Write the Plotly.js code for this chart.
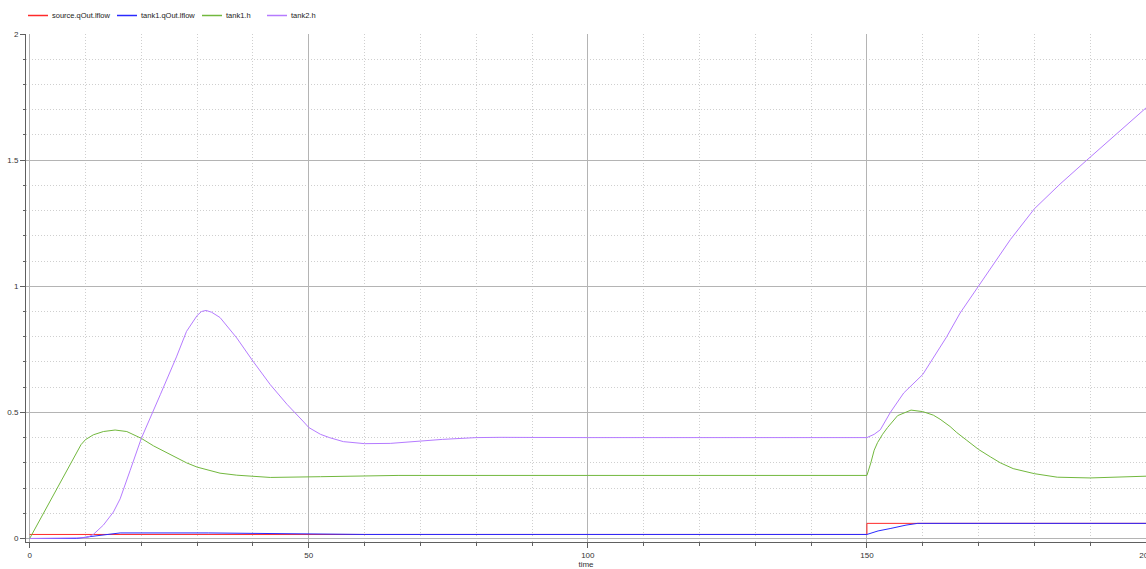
<!DOCTYPE html>
<html>
<head>
<meta charset="utf-8">
<script src="https://cdn.plot.ly/plotly-3.0.1.min.js"></script>
<style>
html,body{margin:0;padding:0;background:#fff;}
#chart{width:1146px;height:569px;}
</style>
</head>
<body>
<div id="chart"></div>
<script>
// ---- data ----
var seriesNames = ["source.qOut.lflow", "tank1.qOut.lflow", "tank1.h", "tank2.h"];

var sourceTime = [0, 150, 150, 200];
var sourceFlow = [0.016, 0.016, 0.06, 0.06];

var tank1FlowTime = [0, 8.4, 11, 14.4, 16.2, 32, 45.5, 60, 150, 152, 154.3, 157, 159.1, 200];
var tank1Flow = [0, 0, 0.008, 0.019, 0.022, 0.022, 0.019, 0.016, 0.016, 0.03, 0.04, 0.053, 0.06, 0.06];

var tank1HTime = [0, 4.2, 8.4, 9.2, 10, 11.4, 13.2, 15.3, 17.4, 20, 22.2, 25.1, 28.1, 30, 34.1, 37.1, 40, 43.1, 52.1, 60, 66, 100, 150,
                  150.7, 151.3, 151.9, 152.8, 153.7, 155.5, 157.9, 160, 161.9, 163.1, 164.9, 166.1, 167.9, 170, 172.1, 173.9,
                  176.2, 180, 184.1, 190, 200];
var tank1H = [0, 0.171, 0.342, 0.372, 0.392, 0.411, 0.424, 0.43, 0.424, 0.397, 0.367, 0.334, 0.30, 0.283, 0.259, 0.251, 0.246, 0.242, 0.245, 0.248, 0.25, 0.25, 0.25,
              0.30, 0.35, 0.38, 0.413, 0.44, 0.487, 0.509, 0.503, 0.489, 0.473, 0.444, 0.42, 0.389, 0.353, 0.324, 0.30,
              0.277, 0.257, 0.243, 0.24, 0.247];

var tank2HTime = [0, 9.6, 10.2, 11.4, 13.2, 15, 16.2, 18, 20, 23.4, 26.3, 28.1, 30, 30.8, 31.6, 32.6, 34.1, 37.1, 40, 43.1, 46.1, 49.1, 50,
                  52.1, 53.7, 56.2, 60, 64.6, 70, 74, 80, 84.3, 100, 150, 151.3, 152.4, 154.2, 156.6, 160, 161.3, 164.3,
                  166.7, 170, 172.7, 175.7, 180, 184.6, 189.4, 194.2, 200];
var tank2H = [0, 0, 0.003, 0.016, 0.053, 0.105, 0.157, 0.27, 0.397, 0.57, 0.72, 0.821, 0.884, 0.9, 0.904, 0.897, 0.876, 0.795, 0.703, 0.61, 0.532, 0.462, 0.44,
              0.413, 0.40, 0.384, 0.376, 0.377, 0.387, 0.393, 0.4, 0.401, 0.4, 0.4, 0.413, 0.431, 0.5, 0.577, 0.65, 0.696, 0.80,
              0.894, 1.0, 1.09, 1.185, 1.307, 1.405, 1.50, 1.594, 1.707];

var xTickVals = [0, 50, 100, 150, 200];
var xTickText = ["0", "50", "100", "150", "200"];
var yTickVals = [0, 0.5, 1, 1.5, 2];
var yTickText = ["0", "0.5", "1", "1.5", "2"];
var xTitle = "time";

// ---- styles ----
var colors = ["#ff2a2a", "#2a2aff", "#72b83e", "#b57bff"];
var xs = [sourceTime, tank1FlowTime, tank1HTime, tank2HTime];
var ys = [sourceFlow, tank1Flow, tank1H, tank2H];

var traces = seriesNames.map(function (n, i) {
  return {
    x: xs[i], y: ys[i], name: n, type: "scatter", mode: "lines",
    line: {color: colors[i], width: 1},
    showlegend: false, hoverinfo: "skip"
  };
});

var W = 1146, H = 569;
var mL = 26, mR = 0, mT = 34, mB = 27;
var plotW = W - mL - mR, plotH = H - mT - mB;
function px2paperX(px) { return (px - mL) / plotW; }
function px2paperY(py) { return (H - mB - py) / plotH; }

// compact legend row (positions = layout styling)
var legendSampleX = [28, 117, 202, 267];
var legendSampleLen = 20;
var legendY = 15.5;
var shapes = [], annotations = [];
seriesNames.forEach(function (n, i) {
  shapes.push({
    type: "line", xref: "paper", yref: "paper", layer: "above", opacity: 1,
    x0: px2paperX(legendSampleX[i]), x1: px2paperX(legendSampleX[i] + legendSampleLen),
    y0: px2paperY(legendY), y1: px2paperY(legendY),
    line: {color: colors[i], width: 1.5, dash: "solid"}
  });
  annotations.push({
    xref: "paper", yref: "paper", x: px2paperX(legendSampleX[i] + legendSampleLen + 2), y: px2paperY(legendY),
    xanchor: "left", yanchor: "middle", showarrow: false, text: n,
    font: {family: "Liberation Sans, Arial, sans-serif", size: 7.5, color: "#222"}
  });
});

var axisCommon = {
  showline: true, linecolor: "#606060", linewidth: 1,
  showgrid: true, gridcolor: "#b4b4b4", gridwidth: 1,
  zeroline: false, ticks: "outside", ticklen: 5, tickwidth: 1, tickcolor: "#606060",
  tickfont: {family: "Liberation Sans, Arial, sans-serif", size: 8, color: "#333"},
  ticklabeloverflow: "allow",
  fixedrange: true
};

var layout = {
  width: W, height: H,
  margin: {l: mL, r: mR, t: mT, b: mB, pad: 0},
  paper_bgcolor: "#fff", plot_bgcolor: "#fff",
  showlegend: false,
  xaxis: Object.assign({}, axisCommon, {
    range: [-0.66, 200], tickmode: "array", tickvals: xTickVals, ticktext: xTickText,
    minor: {tickmode: "linear", tick0: 0, dtick: 10, showgrid: true, gridcolor: "#cfcfcf", griddash: "1px,2px",
            gridwidth: 1, ticks: "outside", ticklen: 3, tickcolor: "#606060"},
    title: {text: xTitle, standoff: 6, font: {family: "Liberation Sans, Arial, sans-serif", size: 8, color: "#333"}}
  }),
  yaxis: Object.assign({}, axisCommon, {
    range: [-0.0139, 2], tickmode: "array", tickvals: yTickVals, ticktext: yTickText,
    minor: {tickmode: "linear", tick0: 0, dtick: 0.1, showgrid: true, gridcolor: "#cfcfcf", griddash: "1px,2px",
            gridwidth: 1, ticks: "outside", ticklen: 2, tickcolor: "#606060"}
  }),
  shapes: shapes,
  annotations: annotations
};

Plotly.newPlot("chart", traces, layout, {staticPlot: true, displayModeBar: false});
</script>
</body>
</html>
